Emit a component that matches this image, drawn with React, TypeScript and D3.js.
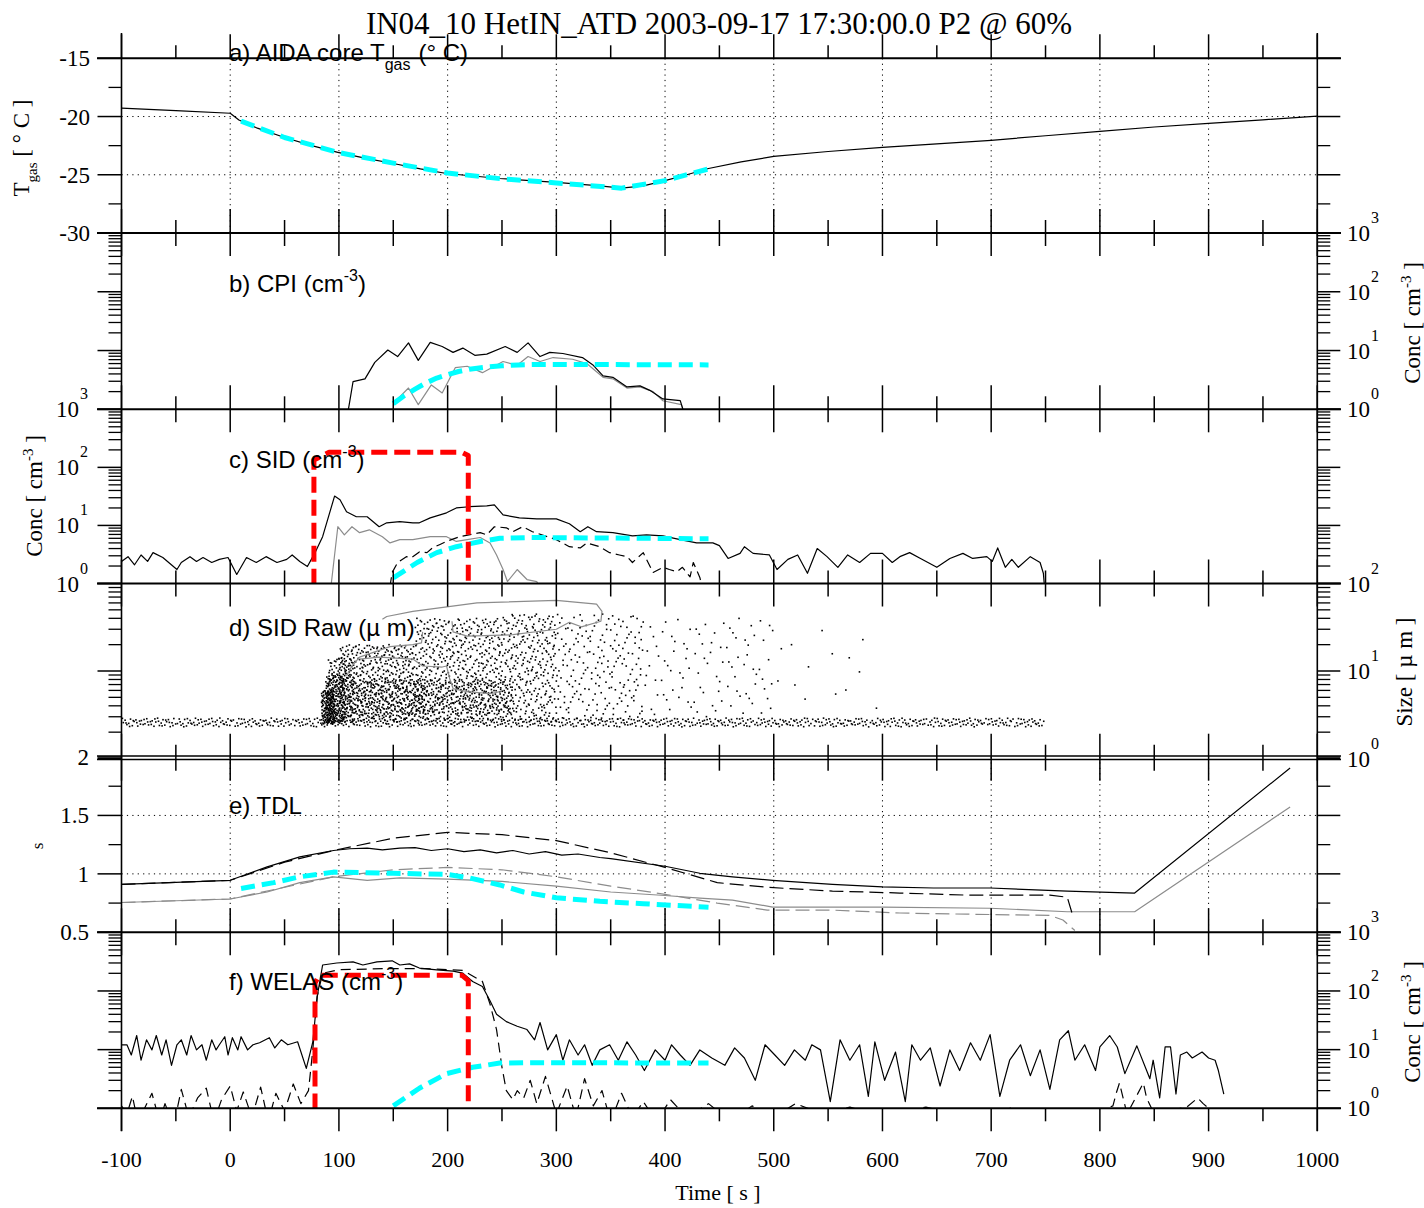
import React, { useEffect, useRef } from "react";
import * as d3 from "d3";

const SERIF = "'Liberation Serif', 'Times New Roman', serif";
const SANS = "'Liberation Sans', Arial, sans-serif";

const timeTicks = [-100, 0, 100, 200, 300, 400, 500, 600, 700, 800, 900, 1000];
const timeMinor = [-50, 50, 150, 250, 350, 450, 550, 650, 750, 850, 950];
const tgasTicks = [-30, -25, -20, -15];
const tgasMinor = [-27.5, -22.5, -17.5];
const sTicks = [0.5, 1, 1.5, 2];
const sMinor = [0.75, 1.25, 1.75];

// a) AIDA core Tgas [time s, degC]
const tgasLine = [[-100, -19.28], [-50, -19.5], [0, -19.72], [8, -20.3], [25, -21.0], [50, -21.8], [75, -22.5], [99, -23.08], [125, -23.6], [150, -24.03], [175, -24.5], [199, -24.89], [248, -25.32], [300, -25.66], [340, -25.95], [360, -26.15], [380, -25.95], [400, -25.5], [420, -25.0], [440, -24.46], [470, -23.9], [500, -23.42], [550, -23.0], [600, -22.65], [650, -22.35], [700, -22.04], [750, -21.65], [800, -21.27], [850, -20.9], [900, -20.58], [950, -20.28], [1000, -19.97]];
const tgasModel = [[10, -20.4], [50, -21.8], [100, -23.1], [150, -24.0], [200, -24.85], [250, -25.35], [300, -25.7], [360, -26.15], [400, -25.5], [440, -24.5]];

// b) CPI concentration [cm-3]
const cpiBlack = [[108, 0.9], [109, 1.07], [113, 2.95], [124, 3.3], [133, 6.3], [145, 10.2], [154, 7.9], [164, 13.5], [173, 6.8], [184, 13.8], [195, 11.7], [205, 9.3], [214, 11], [225, 8.3], [236, 8.7], [253, 11.7], [264, 9.3], [274, 13.5], [285, 7.9], [294, 9.3], [306, 8.9], [324, 7.6], [334, 5.6], [343, 3.7], [352, 3.5], [365, 2.4], [377, 2.5], [386, 2.1], [398, 1.5], [414, 1.4], [416, 1.07], [417, 0.9]];
const cpiGray = [[150, 1.26], [164, 2.3], [173, 1.2], [185, 2.6], [195, 1.9], [207, 5.1], [218, 5.4], [232, 4.2], [251, 6.5], [264, 5.6], [274, 7.9], [285, 6.5], [297, 7.6], [315, 7.1], [328, 6.0], [343, 3.5], [352, 3.3], [365, 2.3], [377, 2.4], [389, 2.0], [398, 1.4], [415, 1.2], [417, 0.9]];
const cpiModel = [[150, 1.25], [160, 1.7], [170, 2.2], [180, 2.8], [190, 3.4], [200, 3.9], [210, 4.4], [220, 4.8], [235, 5.2], [250, 5.5], [265, 5.7], [280, 5.8], [300, 5.8], [440, 5.7]];

// c) SID concentration [cm-3]
const sidBlack = [[-100, 2.4], [-94, 2.9], [-88, 2.1], [-82, 3.1], [-76, 2.4], [-71, 3.4], [-62, 2.8], [-49, 1.74], [-45, 2.3], [-37, 2.9], [-31, 2.4], [-25, 2.8], [-17, 2.3], [-10, 2.6], [-2, 2.8], [6, 1.43], [15, 2.8], [24, 2.3], [33, 2.9], [43, 2.3], [52, 2.6], [57, 3.1], [64, 2.4], [71, 1.96], [78, 3.4], [85, 6.4], [96, 32], [101, 27.6], [107, 17.2], [116, 14.1], [126, 14.1], [137, 9.5], [144, 11.1], [156, 11.6], [168, 11.1], [174, 11.1], [184, 13.5], [199, 16.5], [208, 20], [220, 21], [236, 21.8], [243, 22.6], [251, 15.2], [266, 13.5], [282, 13], [300, 13], [312, 10.7], [322, 7.8], [329, 9.5], [337, 7.8], [352, 7.5], [370, 6.6], [383, 6.9], [398, 6.6], [414, 5.7], [429, 5.0], [444, 5.0], [450, 4.5], [458, 2.7], [469, 3.3], [473, 4.3], [481, 3.3], [496, 3.1], [503, 1.74], [513, 2.6], [522, 3.1], [531, 1.5], [540, 4.0], [549, 2.9], [559, 1.9], [568, 3.1], [579, 2.3], [589, 3.3], [600, 3.3], [609, 2.3], [616, 2.9], [625, 3.4], [635, 2.7], [650, 1.9], [662, 2.7], [674, 3.3], [683, 2.7], [696, 2.9], [701, 2.4], [706, 4.1], [713, 1.9], [719, 2.6], [725, 1.9], [736, 2.9], [745, 2.3], [748, 1.5], [749, 0.9]];
const sidGray = [[92, 0.9], [93, 1.0], [99, 9.5], [105, 6.9], [112, 9.5], [119, 7.5], [128, 8.4], [140, 6.4], [147, 5.0], [156, 5.7], [168, 5.7], [184, 6.4], [199, 6.4], [208, 5.3], [218, 5.7], [230, 6.2], [239, 5.0], [245, 3.1], [251, 1.74], [255, 1.08], [264, 1.74], [273, 1.17], [282, 1.08], [284, 0.9]];
const sidDashed = [[147, 0.9], [149, 1.55], [154, 2.3], [162, 2.9], [167, 2.8], [174, 3.5], [181, 3.4], [186, 4.1], [193, 4.7], [199, 5.3], [211, 6.4], [230, 7.5], [236, 6.9], [243, 9.5], [254, 9.1], [260, 7.8], [269, 9.5], [278, 7.8], [300, 5.7], [312, 4.3], [322, 4.1], [328, 5.0], [340, 4.3], [349, 3.4], [358, 3.1], [365, 2.9], [370, 2.3], [380, 3.4], [383, 2.6], [389, 1.55], [398, 1.9], [404, 1.74], [411, 1.6], [416, 1.9], [423, 1.3], [426, 2.3], [432, 1.27], [434, 0.9]];
const sidModel = [[150, 1.25], [172, 2.3], [190, 3.4], [208, 4.3], [230, 5.3], [248, 6.0], [276, 6.2], [440, 5.9]];
const sidRedBox = [[77, 0.95], [77, 134], [91, 182], [213, 182], [219, 160], [219, 0.95]];

// d) SID raw particle sizes: density of detected particles [t0, t1, size lo, size hi, count]
const sidRawBands = [
  [-100, 750, 2.3, 2.9, 750],
  [84, 96, 2.5, 6, 130],
  [88, 106, 2.5, 9, 170],
  [90, 114, 2.6, 14, 150],
  [100, 170, 2.6, 20, 480],
  [110, 180, 3.0, 8, 220],
  [170, 250, 2.6, 40, 520],
  [170, 260, 3.2, 8, 240],
  [250, 300, 2.6, 45, 300],
  [300, 380, 2.7, 45, 200],
  [380, 500, 3.0, 40, 100],
  [500, 600, 3.5, 30, 14],
];
const sidContourTop = [[140, 39], [144, 42], [168, 48], [227, 60], [300, 64], [337, 58], [342, 48], [341, 37], [323, 32], [312, 36], [300, 30], [260, 26], [218, 25], [205, 28], [204, 37]];
const sidContourLeft = [[177, 28], [176, 21], [168, 20], [147, 19], [119, 14.4], [112, 11.4], [107, 8.8]];
const sidContourInner = [[119, 13.7], [137, 14.4], [168, 13.7], [177, 11.4], [195, 11.1], [199, 11.4], [202, 8.1], [205, 6.3], [218, 5.8], [239, 5.5], [248, 5.8]];

// e) TDL saturation ratio
const tdlBlack = [[-100, 0.91], [0, 0.945], [34, 1.06], [64, 1.145], [95, 1.2], [110, 1.215], [126, 1.22], [140, 1.205], [156, 1.22], [170, 1.225], [185, 1.2], [200, 1.215], [215, 1.19], [230, 1.205], [245, 1.18], [260, 1.2], [275, 1.17], [290, 1.19], [305, 1.16], [320, 1.17], [340, 1.14], [350, 1.13], [400, 1.065], [432, 1.005], [462, 0.975], [499, 0.945], [554, 0.91], [600, 0.888], [647, 0.879], [699, 0.879], [770, 0.853], [832, 0.836], [975, 1.906]];
const tdlBlackDashed = [[-100, 0.91], [0, 0.945], [50, 1.1], [95, 1.2], [150, 1.305], [200, 1.355], [250, 1.335], [300, 1.285], [350, 1.18], [400, 1.055], [448, 0.925], [494, 0.885], [554, 0.853], [616, 0.836], [678, 0.818], [754, 0.818], [770, 0.8], [775, 0.645]];
const tdlGray = [[-100, 0.755], [0, 0.785], [34, 0.845], [64, 0.925], [95, 0.975], [126, 0.945], [156, 0.965], [200, 0.955], [250, 0.935], [300, 0.895], [350, 0.845], [400, 0.815], [432, 0.793], [462, 0.776], [499, 0.716], [600, 0.716], [699, 0.706], [770, 0.676], [832, 0.676], [975, 1.572]];
const tdlGrayDashed = [[-100, 0.755], [0, 0.785], [95, 0.975], [150, 1.035], [200, 1.055], [250, 1.035], [300, 0.975], [350, 0.895], [400, 0.825], [448, 0.75], [494, 0.69], [554, 0.69], [616, 0.665], [678, 0.655], [754, 0.645], [766, 0.605], [777, 0.515]];
const tdlModel = [[10, 0.875], [40, 0.925], [64, 0.975], [95, 1.015], [150, 1.005], [200, 0.995], [220, 0.965], [248, 0.905], [270, 0.845], [300, 0.795], [340, 0.765], [380, 0.745], [440, 0.715]];

// f) WELAS concentration [cm-3]
const welasSolid = [[-100, 12.1], [-95, 12.1], [-91, 8.1], [-86, 17.4], [-82, 6.6], [-77, 14.7], [-72, 9.9], [-68, 17.4], [-63, 8.1], [-59, 14.7], [-54, 5.4], [-49, 12.1], [-45, 14.7], [-40, 8.1], [-36, 17.4], [-31, 9.9], [-26, 12.1], [-22, 6.6], [-17, 14.7], [-13, 9.9], [-10, 12.1], [-5, 16.6], [-2, 8.1], [2, 16], [7, 9.9], [10, 16.6], [16, 9.9], [21, 12.1], [27, 13.1], [36, 16], [41, 10.7], [47, 14.7], [53, 12.1], [62, 13.6], [70, 4.8], [76, 13.6], [80, 80], [85, 277], [98, 300], [113, 314], [122, 277], [135, 314], [149, 327], [156, 277], [165, 290], [174, 246], [190, 228], [205, 218], [214, 201], [223, 145], [232, 119], [239, 68], [245, 40], [254, 30], [264, 25], [273, 22], [280, 14.7], [285, 29], [292, 9.9], [300, 18], [306, 6.6], [312, 14.7], [320, 8.1], [326, 12.1], [333, 5.4], [340, 9.9], [349, 12.1], [357, 6.6], [365, 13.6], [373, 8.1], [381, 4.4], [391, 9.9], [400, 6.6], [406, 12.1], [414, 8.1], [423, 5.4], [432, 9.9], [443, 7.2], [455, 5.4], [464, 10.7], [473, 7.2], [483, 3.0], [492, 12.1], [501, 8.1], [510, 5.4], [519, 9.9], [529, 6.6], [535, 12.1], [543, 9.9], [552, 1.3], [561, 14.7], [570, 6.6], [579, 12.1], [587, 1.6], [593, 13.6], [602, 3.0], [612, 9.1], [621, 1.3], [627, 12.1], [635, 6.6], [644, 10.7], [653, 2.4], [662, 9.9], [671, 4.4], [681, 13.1], [690, 6.6], [699, 18], [708, 1.6], [717, 6.6], [727, 12.1], [736, 3.6], [745, 9.9], [754, 2.1], [763, 14.7], [771, 21], [777, 6.6], [786, 12.1], [796, 4.4], [800, 11.1], [809, 17.4], [816, 11.1], [823, 3.9], [834, 11.6], [846, 3.2], [849, 6.6], [855, 1.5], [860, 11.1], [865, 11.1], [870, 1.75], [874, 8.1], [880, 9.1], [885, 7.2], [894, 9.1], [900, 7.2], [906, 6.6], [909, 4.4], [914, 1.75]];
const welasDashed = [[-100, 1.1], [-95, 0.8], [-90, 1.6], [-85, 0.6], [-80, 0.9], [-72, 1.8], [-65, 0.6], [-60, 1.2], [-52, 0.5], [-45, 2.1], [-38, 0.7], [-30, 1.5], [-22, 2.2], [-15, 0.6], [-8, 1.4], [0, 2.4], [6, 0.9], [12, 1.9], [20, 0.7], [28, 2.3], [35, 0.6], [42, 1.8], [50, 0.9], [58, 2.6], [65, 1.2], [72, 2.0], [76, 10], [80, 80], [85, 200], [100, 230], [140, 240], [180, 240], [214, 225], [232, 145], [239, 60], [245, 22], [250, 5], [254, 2.0], [260, 1.4], [264, 2.0], [270, 1.5], [276, 3.0], [282, 1.2], [290, 3.5], [300, 0.8], [310, 2.4], [318, 0.7], [326, 3.2], [334, 1.1], [342, 2.0], [350, 0.6], [360, 1.8], [370, 0.7], [380, 1.3], [392, 0.6], [405, 1.4], [420, 0.7], [440, 1.2], [460, 0.6], [480, 1.1], [500, 0.7], [520, 1.2], [545, 0.8], [570, 1.05], [600, 0.7], [640, 1.05], [680, 0.7], [720, 1.02], [760, 0.7], [800, 0.9], [812, 1.1], [815, 1.8], [818, 2.7], [825, 0.8], [840, 2.7], [843, 1.5], [850, 0.8], [880, 1.05], [890, 1.5], [895, 1.2], [900, 1.0]];
const welasModel = [[150, 1.1], [174, 2.2], [199, 3.9], [223, 5.0], [248, 5.9], [280, 6.0], [440, 5.9]];
const welasRedBox = [[78, 0.95], [78, 136], [82, 186], [213, 186], [219, 150], [219, 0.95]];

const X0 = 121.5;
const X1 = 1317.3;
const GRAY = "#8c8c8c";
const CYAN = "#00ffff";
const RED = "#ff0000";

// low-discrepancy placement inside a density band
const halton = (i: number, b: number) => {
  let f = 1, r = 0;
  while (i > 0) {
    f /= b;
    r += f * (i % b);
    i = Math.floor(i / b);
  }
  return r;
};

export default function App() {
  const ref = useRef<SVGSVGElement>(null);

  useEffect(() => {
    const svg = d3.select(ref.current);
    svg.selectAll("*").remove();

    const x = d3.scaleLinear().domain([-100, 1000]).range([X0, X1]);

    // panels: scale + vertical extent
    const panels: any = {
      a: { y: d3.scaleLinear().domain([-30, -15]).range([233, 58.3]), top: 58.3, bottom: 233 },
      b: { y: d3.scaleLog().domain([1, 1000]).range([409.3, 233]), top: 233, bottom: 409.3 },
      c: { y: d3.scaleLog().domain([1, 1000]).range([583.5, 409.3]), top: 409.3, bottom: 583.5 },
      d: { y: d3.scaleLog().domain([1, 100]).range([758.5, 583.5]), top: 583.5, bottom: 758.5 },
      e: { y: d3.scaleLinear().domain([0.5, 2]).range([932.3, 757]), top: 757, bottom: 932.3 },
      f: { y: d3.scaleLog().domain([1, 1000]).range([1108.3, 932.3]), top: 932.3, bottom: 1108.3 },
    };

    const defs = svg.append("defs");
    Object.keys(panels).forEach((k) => {
      const p = panels[k];
      defs.append("clipPath").attr("id", "clip-" + k)
        .append("rect").attr("x", X0).attr("y", p.top).attr("width", X1 - X0).attr("height", p.bottom - p.top);
    });

    // dotted grid in panels a and e
    const grid = svg.append("g").attr("stroke", "#000").attr("stroke-width", 1).attr("stroke-dasharray", "1.2,4.2");
    ["a", "e"].forEach((k) => {
      const p = panels[k];
      timeTicks.filter((t) => t > -100 && t < 1000).forEach((t) => {
        grid.append("line").attr("x1", x(t)).attr("x2", x(t)).attr("y1", p.top).attr("y2", p.bottom);
      });
    });
    [-20, -25].forEach((v) => grid.append("line").attr("x1", X0).attr("x2", X1).attr("y1", panels.a.y(v)).attr("y2", panels.a.y(v)));
    [1, 1.5].forEach((v) => grid.append("line").attr("x1", X0).attr("x2", X1).attr("y1", panels.e.y(v)).attr("y2", panels.e.y(v)));

    const drawLine = (k: string, data: number[][], color: string, width: number, dash?: string) => {
      const y = panels[k].y;
      const line = d3.line<number[]>().x((d) => x(d[0])).y((d) => y(d[1]));
      svg.append("path")
        .attr("d", line(data))
        .attr("fill", "none")
        .attr("stroke", color)
        .attr("stroke-width", width)
        .attr("stroke-linejoin", "round")
        .attr("stroke-dasharray", dash || null)
        .attr("clip-path", `url(#clip-${k})`);
    };

    // d) scatter of raw sizes, spread over each read density band
    const dots: number[][] = [];
    sidRawBands.forEach(([t0, t1, s0, s1, n], bi) => {
      const l0 = Math.log10(s0), l1 = Math.log10(s1);
      for (let i = 0; i < n; i++) {
        const k = 1 + i + bi * 1013;
        dots.push([t0 + halton(k, 2) * (t1 - t0), Math.pow(10, l0 + halton(k, 3) * (l1 - l0))]);
      }
    });
    svg.append("g").attr("clip-path", "url(#clip-d)")
      .selectAll("rect").data(dots).enter().append("rect")
      .attr("x", (d) => x(d[0]) - 0.8)
      .attr("y", (d) => panels.d.y(d[1]) - 0.8)
      .attr("width", 1.6).attr("height", 1.6)
      .attr("fill", "#000");

    // data lines
    drawLine("a", tgasLine, "#000", 1.2);
    drawLine("a", tgasModel, CYAN, 5, "14,7");

    drawLine("b", cpiGray, GRAY, 1.2);
    drawLine("b", cpiBlack, "#000", 1.2);
    drawLine("b", cpiModel, CYAN, 5, "14,7");

    drawLine("c", sidGray, GRAY, 1.2);
    drawLine("c", sidDashed, "#000", 1.2, "9,5");
    drawLine("c", sidBlack, "#000", 1.2);
    drawLine("c", sidModel, CYAN, 5, "14,7");
    drawLine("c", sidRedBox, RED, 5, "16,7");

    drawLine("d", sidContourTop, GRAY, 1.2);
    drawLine("d", sidContourLeft, GRAY, 1.2);
    drawLine("d", sidContourInner, GRAY, 1.2);

    drawLine("e", tdlGrayDashed, GRAY, 1.2, "14,6");
    drawLine("e", tdlGray, GRAY, 1.2);
    drawLine("e", tdlBlackDashed, "#000", 1.2, "14,6");
    drawLine("e", tdlBlack, "#000", 1.2);
    drawLine("e", tdlModel, CYAN, 5, "14,7");

    drawLine("f", welasDashed, "#000", 1.2, "10,6");
    drawLine("f", welasSolid, "#000", 1.2);
    drawLine("f", welasModel, CYAN, 5, "14,7");
    drawLine("f", welasRedBox, RED, 5, "16,7");

    // frame
    const frame = svg.append("g").attr("stroke", "#000").attr("fill", "none");
    frame.append("line").attr("x1", X0).attr("x2", X0).attr("y1", 33).attr("y2", 1131).attr("stroke-width", 1.6);
    frame.append("line").attr("x1", X1).attr("x2", X1).attr("y1", 33).attr("y2", 1131).attr("stroke-width", 1.6);
    [58.3, 233, 409.3, 583.5, 932.3, 1108.3].forEach((yy) => {
      frame.append("line").attr("x1", 97).attr("x2", 1341).attr("y1", yy).attr("y2", yy).attr("stroke-width", 2);
    });
    [756, 759.5].forEach((yy) => {
      frame.append("line").attr("x1", 97).attr("x2", 1341).attr("y1", yy).attr("y2", yy).attr("stroke-width", 1.3);
    });

    // time ticks on every panel edge, pointing outward
    const edges = [[58.3, 1, 0], [233, 1, 1], [409.3, 1, 1], [583.5, 1, 1], [757.7, 1, 1], [932.3, 1, 1], [1108.3, 0, 1]];
    edges.forEach(([yy, up, down]) => {
      timeTicks.forEach((t) => frame.append("line").attr("x1", x(t)).attr("x2", x(t))
        .attr("y1", yy - 24 * up).attr("y2", yy + 23 * down).attr("stroke-width", 1.5));
      timeMinor.forEach((t) => frame.append("line").attr("x1", x(t)).attr("x2", x(t))
        .attr("y1", yy - 13 * up).attr("y2", yy + 13 * down).attr("stroke-width", 1.5));
    });

    // value ticks on both sides
    const yTicks = (k: string, majors: number[], minors: number[]) => {
      const y = panels[k].y;
      majors.forEach((v) => {
        frame.append("line").attr("x1", X0 - 24).attr("x2", X0).attr("y1", y(v)).attr("y2", y(v)).attr("stroke-width", 1.5);
        frame.append("line").attr("x1", X1).attr("x2", X1 + 23).attr("y1", y(v)).attr("y2", y(v)).attr("stroke-width", 1.5);
      });
      minors.forEach((v) => {
        frame.append("line").attr("x1", X0 - 13).attr("x2", X0).attr("y1", y(v)).attr("y2", y(v)).attr("stroke-width", 1.3);
        frame.append("line").attr("x1", X1).attr("x2", X1 + 13).attr("y1", y(v)).attr("y2", y(v)).attr("stroke-width", 1.3);
      });
    };
    const logTicks = (k: string) => {
      const [lo, hi] = panels[k].y.domain();
      const majors: number[] = [];
      const minors: number[] = [];
      for (let dec = lo; dec <= hi; dec *= 10) {
        majors.push(dec);
        if (dec < hi) for (let m = 2; m <= 9; m++) minors.push(m * dec);
      }
      yTicks(k, majors, minors);
      return majors;
    };
    yTicks("a", tgasTicks, tgasMinor);
    yTicks("e", sTicks, sMinor);
    const decB = logTicks("b");
    const decC = logTicks("c");
    const decD = logTicks("d");
    const decF = logTicks("f");

    const labels = svg.append("g").style("font-family", SERIF).attr("fill", "#000");

    // linear value labels (left)
    tgasTicks.forEach((v) => labels.append("text").attr("x", 90).attr("y", panels.a.y(v) + 8)
      .attr("text-anchor", "end").style("font-size", "23px").text(String(v)));
    sTicks.forEach((v) => labels.append("text").attr("x", 89).attr("y", panels.e.y(v) + 8)
      .attr("text-anchor", "end").style("font-size", "23px").text(String(v)));

    // log labels
    const powLabel = (k: string, decs: number[], side: string) => {
      decs.forEach((v) => {
        const t = labels.append("text")
          .attr("x", side === "left" ? 88 : 1347)
          .attr("y", panels[k].y(v) + 8)
          .attr("text-anchor", side === "left" ? "end" : "start")
          .style("font-size", "23px");
        t.append("tspan").text("10");
        t.append("tspan").attr("dy", -18).attr("dx", 1).style("font-size", "16px").text(String(Math.round(Math.log10(v))));
      });
    };
    powLabel("b", decB, "right");
    powLabel("c", decC, "left");
    powLabel("d", decD, "right");
    powLabel("f", decF, "right");

    // time labels
    timeTicks.forEach((t) => labels.append("text").attr("x", x(t)).attr("y", 1167)
      .attr("text-anchor", "middle").style("font-size", "22px").text(String(t)));
    labels.append("text").attr("x", 718).attr("y", 1200).attr("text-anchor", "middle")
      .style("font-size", "22px").text("Time [ s ]");

    // main title
    labels.append("text").attr("x", 719).attr("y", 34).attr("text-anchor", "middle")
      .style("font-size", "31px").text("IN04_10 HetIN_ATD 2003-09-17 17:30:00.0 P2 @ 60%");

    // axis titles (rotated)
    const rotTitle = (cx: number, cy: number, parts: [string, number, number][], size = 23) => {
      const t = labels.append("text").attr("transform", `translate(${cx},${cy}) rotate(-90)`)
        .attr("text-anchor", "middle").style("font-size", size + "px");
      parts.forEach(([s, dy, fs]) => t.append("tspan").attr("dy", dy).style("font-size", fs ? fs + "px" : null).text(s));
    };
    rotTitle(29, 148, [["T", 0, 0], ["gas", 8, 15], [" [ ° C ]", -8, 0]]);
    rotTitle(42, 496, [["Conc [ cm", 0, 0], ["-3", -9, 15], [" ]", 9, 0]]);
    rotTitle(1420, 323, [["Conc [ cm", 0, 0], ["-3", -9, 15], [" ]", 9, 0]]);
    rotTitle(1412, 672, [["Size [ µ m ]", 0, 0]]);
    rotTitle(1420, 1022, [["Conc [ cm", 0, 0], ["-3", -9, 15], [" ]", 9, 0]]);
    rotTitle(43, 846, [["s", 0, 0]], 17);

    // panel titles
    const ptitles = svg.append("g").style("font-family", SANS).style("font-size", "24px").attr("fill", "#000");
    const pt = (yy: number, parts: [string, number, number, number][]) => {
      const t = ptitles.append("text").attr("x", 229).attr("y", yy);
      parts.forEach(([s, dy, dx, fs]) => t.append("tspan").attr("dy", dy).attr("dx", dx)
        .style("font-size", fs ? fs + "px" : null).text(s));
    };
    pt(61, [["a) AIDA core T", 0, 0, 0], ["gas", 9, 0, 16], ["(° C)", -9, 8, 0]]);
    pt(292, [["b) CPI (cm", 0, 0, 0], ["-3", -11, 0, 16], [")", 11, 0, 0]]);
    pt(468, [["c) SID (cm", 0, 0, 0], ["-3", -11, 0, 16], [")", 11, 0, 0]]);
    pt(636, [["d) SID Raw (µ m)", 0, 0, 0]]);
    pt(814, [["e) TDL", 0, 0, 0]]);
    pt(990, [["f) WELAS (cm", 0, 0, 0], ["-3", -11, 0, 16], [")", 11, 0, 0]]);
  }, []);

  return (
    <svg
      ref={ref}
      width={1424}
      height={1208}
      style={{ position: "absolute", left: 0, top: 0, background: "#fff" }}
    />
  );
}
